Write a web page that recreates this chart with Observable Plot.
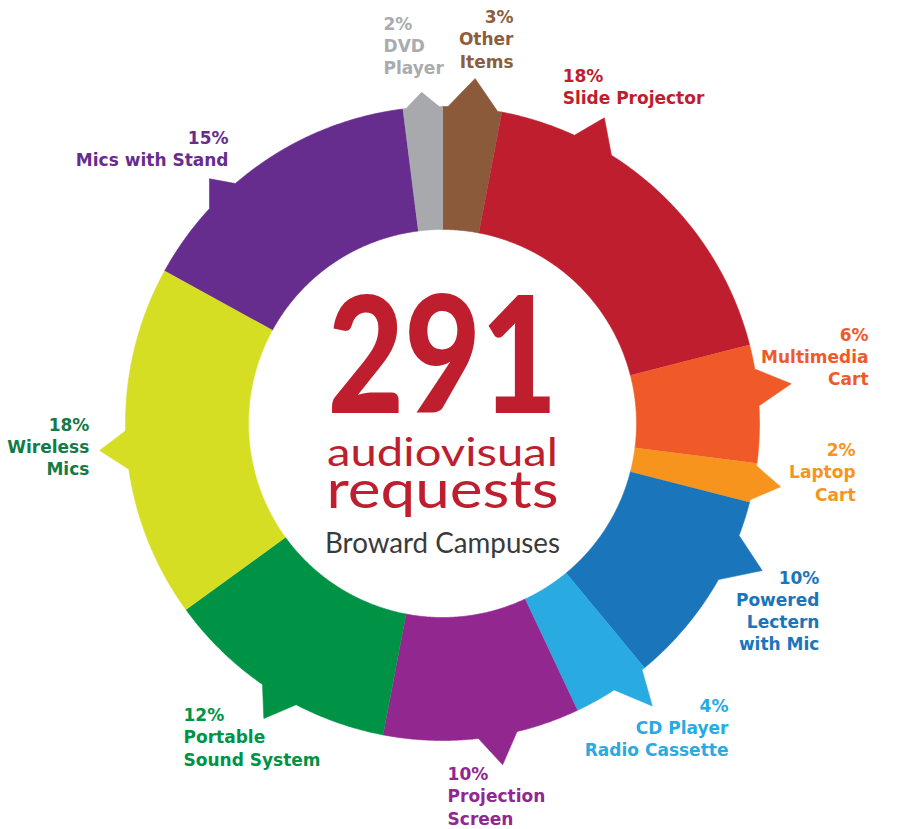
<!DOCTYPE html>
<html>
<head>
<meta charset="utf-8">
<script src="https://cdn.jsdelivr.net/npm/d3@7"></script>
<script src="https://cdn.jsdelivr.net/npm/@observablehq/plot@0.6"></script>
<style>
  html, body { margin: 0; padding: 0; background: #fff; }
</style>
</head>
<body>
<div id="chart"></div>
<script>
// ---------- DATA ----------
const categories = ["Other Items", "Slide Projector", "Multimedia Cart", "Laptop Cart",
  "Powered Lectern with Mic", "CD Player Radio Cassette", "Projection Screen",
  "Portable Sound System", "Wireless Mics", "Mics with Stand", "DVD Player"];
const labelTexts = ["Other\nItems", "Slide Projector", "Multimedia\nCart", "Laptop\nCart",
  "Powered\nLectern\nwith Mic", "CD Player\nRadio Cassette", "Projection\nScreen",
  "Portable\nSound System", "Wireless\nMics", "Mics with Stand", "DVD\nPlayer"];
const percents = [3, 18, 6, 2, 10, 4, 10, 12, 18, 15, 2];
const centerTotal = "291";
const centerLines = ["audiovisual", "requests", "Broward Campuses"];

// ---------- STYLE / LAYOUT ----------
const sliceColors = ["#8b5a3a", "#be1e2d", "#f05a28", "#f7941e", "#1b75bb", "#29aae1",
  "#92278f", "#009345", "#d6de23", "#662d8f", "#a7a9ac"];
const labelColors = ["#8b5e3c", "#be1e2d", "#f05a28", "#f7941e", "#1b75bb", "#29aae1",
  "#92278f", "#009345", "#147a48", "#662d8f", "#a9abae"];
// pointer layout per slice: [base start deg, tip deg, base end deg, tip radius]
const pointers = [
  [1.0, 5.4, 10.0, 1.093], [24.6, 27.9, 32.2, 1.091], [80.1, 83.5, 86.8, 1.107],
  [97.7, 100.6, 103.9, 1.085], [110.7, 114.7, 119.5, 1.11], [141.0, 143.4, 147.2, 1.11],
  [166.4, 170.0, 173.5, 1.093], [207.5, 211.2, 214.6, 1.088], [261.7, 265.5, 268.7, 1.085],
  [312.7, 316.4, 319.2, 1.066], [353.4, 356.4, 359.4, 1.047]
];
// label anchor (x, y in radius units, last-line baseline) and text anchor
const labelPos = [
  [0.224, 1.123, "end"], [0.379, 1.009, "start"], [1.344, 0.120, "end"],
  [1.303, -0.243, "end"], [1.189, -0.716, "end"], [0.902, -1.050, "end"],
  [0.016, -1.265, "start"], [-0.817, -1.079, "start"], [-1.114, -0.164, "end"],
  [-0.675, 0.811, "end"], [-0.186, 1.101, "start"]
];
const W = 898, H = 829, CX = 442, CY = 423, R = 317, INNER = 0.612;

// ---------- GEOMETRY (derived from values) ----------
const total = d3.sum(percents);
const pts = [];
let acc = 0;
const polar = (deg, r) => [r * Math.sin(deg * Math.PI / 180), r * Math.cos(deg * Math.PI / 180)];
function arc(a, b, r, name, color) {
  const n = Math.max(2, Math.ceil(Math.abs(b - a) / 0.4));
  for (let k = 0; k <= n; k++) {
    const t = a + (b - a) * k / n;
    const [x, y] = polar(t, r);
    pts.push({x, y, name, color});
  }
}
percents.forEach((v, i) => {
  const a0 = acc / total * 360;
  acc += v;
  const a1 = acc / total * 360;
  const [p0, pt, p1, pr] = pointers[i];
  const name = categories[i], color = sliceColors[i];
  arc(a0, p0, 1, name, color);
  const [tx, ty] = polar(pt, pr);
  pts.push({x: tx, y: ty, name, color});
  arc(p1, a1, 1, name, color);
  arc(a1, a0, INNER, name, color);
});

const labels = percents.map((v, i) => ({
  text: `${v}%\n${labelTexts[i]}`,
  x: labelPos[i][0], y: labelPos[i][1], anchor: labelPos[i][2], color: labelColors[i]
}));

const centerData = [
  {text: centerLines[0], y: (CY - 465) / R, size: 39, len: 231},
  {text: centerLines[1], y: (CY - 507) / R, size: 52, len: 232},
  {text: centerLines[2], y: (CY - 552) / R, size: 28, len: 235, fill: "#3a3a3a"}
];

const labelOpts = {
  x: "x", y: "y", text: "text", fill: "color", lineAnchor: "bottom",
  fontSize: 17, fontWeight: "bold", lineHeight: 1.3, fontFamily: "DejaVu Sans"
};

const chart = Plot.plot({
  width: W, height: H, margin: 0,
  x: {domain: [-CX / R, (W - CX) / R], axis: null},
  y: {domain: [-(H - CY) / R, CY / R], axis: null},
  style: {background: "#fff", fontFamily: "Lato, DejaVu Sans, sans-serif"},
  marks: [
    Plot.line(pts, {x: "x", y: "y", z: "name", fill: "color", stroke: "color", strokeWidth: 0.6, curve: "linear"}),
    Plot.text(labels.filter(d => d.anchor === "start"), {...labelOpts, textAnchor: "start"}),
    Plot.text(labels.filter(d => d.anchor === "end"), {...labelOpts, textAnchor: "end"}),
    Plot.text([{text: centerTotal, y: (CY - 412) / R}], {
      x: 0, y: "y", text: "text", fill: "#be1e2d", fontSize: 162, fontWeight: 900,
      lineAnchor: "bottom", textAnchor: "middle", className: "ctotal", fontFamily: "Lato"
    }),
    Plot.text(centerData, {
      x: 0, y: "y", text: "text", fill: d => d.fill || "#be1e2d", fontSize: "size",
      fontWeight: "normal", lineAnchor: "bottom", textAnchor: "middle", className: "clines", fontFamily: "Lato"
    })
  ]
});
document.getElementById("chart").appendChild(chart);

// fit centre texts to their measured widths
d3.select(chart).selectAll(".ctotal text").attr("textLength", 230).attr("lengthAdjust", "spacingAndGlyphs");
d3.select(chart).selectAll(".clines text").each(function (d, i) {
  d3.select(this).attr("textLength", centerData[i].len).attr("lengthAdjust", "spacingAndGlyphs");
});
</script>
</body>
</html>
